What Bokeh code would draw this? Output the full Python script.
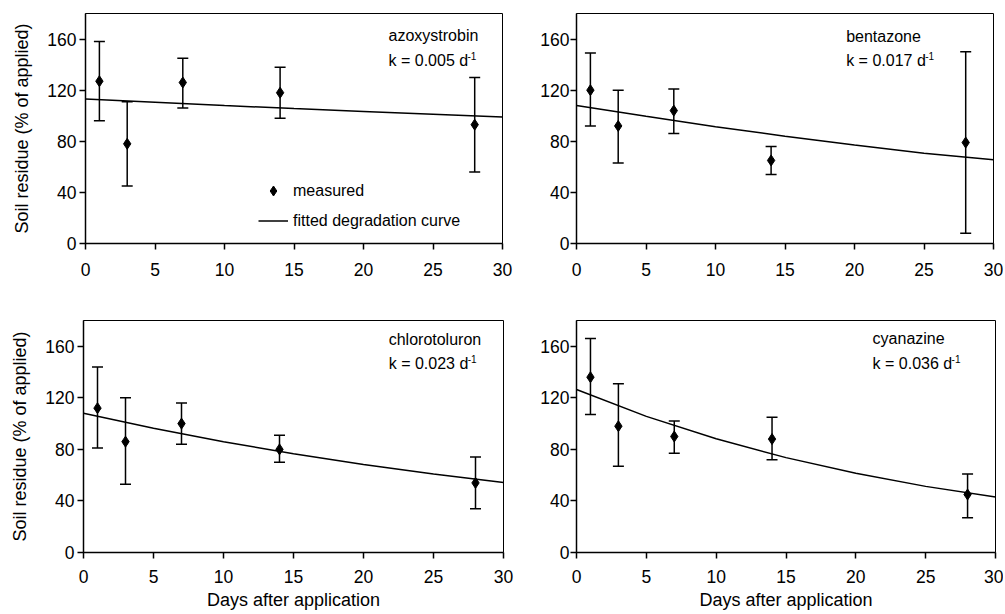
from bokeh.plotting import figure
from bokeh.models import (Range1d, FixedTicker, ColumnDataSource, Whisker, TeeHead,
                          Label, Legend, LegendItem)
from bokeh.layouts import column, row
from bokeh.embed import file_html
from bokeh.resources import INLINE

FONT = "Liberation Sans"

days = [1, 3, 7, 14, 28]
curve_days = [0, 5, 10, 15, 20, 25, 30]
x_ticks = [0, 5, 10, 15, 20, 25, 30]
y_ticks = [0, 40, 80, 120, 160]

names = ["azoxystrobin", "bentazone", "chlorotoluron", "cyanazine"]
k_values = ["0.005", "0.017", "0.023", "0.036"]

azo_mean = [127, 78, 126, 118, 93]
azo_low = [96, 45, 106, 98, 56]
azo_high = [158, 111, 145, 138, 130]
azo_curve = [113, 110.6, 108, 105.6, 103.4, 101.2, 99]

ben_mean = [120, 92, 104, 65, 79]
ben_low = [92, 63, 86, 54, 8]
ben_high = [149, 120, 121, 76, 150]
ben_curve = [108, 99.5, 91.4, 84, 77, 70.7, 65.5]

chl_mean = [112, 86, 100, 80, 54]
chl_low = [81, 53, 84, 70, 34]
chl_high = [144, 120, 116, 91, 74]
chl_curve = [108, 96.4, 86, 76.6, 68.3, 60.9, 54.4]

cya_mean = [136, 98, 90, 88, 45]
cya_low = [107, 67, 77, 72, 27]
cya_high = [166, 131, 102, 105, 61]
cya_curve = [126.5, 105.6, 88.2, 73.6, 61.5, 51.3, 43]

# annotation anchor (data coords) for name line and k line
label_x = [21.8, 19.4, 21.8, 21.2]
label_y1 = [163, 162, 165, 166]
label_y2 = [143, 143, 146.5, 146.5]

panels = [
    (azo_mean, azo_low, azo_high, azo_curve),
    (ben_mean, ben_low, ben_high, ben_curve),
    (chl_mean, chl_low, chl_high, chl_curve),
    (cya_mean, cya_low, cya_high, cya_curve),
]

# figure geometry: (width, height, left, right, top, bottom)
geom = [
    (537, 300, 85, 35, 12, 57),
    (466, 300, 36, 10, 13, 55),
    (537, 314, 83, 34, 20, 62),
    (466, 314, 38, 8, 20, 62),
]


def make_panel(i):
    mean, low, high, curve = panels[i]
    w, h, bl, br, bt, bb = geom[i]
    p = figure(width=w, height=h, output_backend="svg", toolbar_location=None,
               x_range=Range1d(0, 30), y_range=Range1d(0, 180),
               min_border_left=bl, min_border_right=br,
               min_border_top=bt, min_border_bottom=bb)
    p.grid.visible = False
    p.outline_line_color = "black"
    p.outline_line_width = 1
    p.background_fill_color = "white"
    p.border_fill_color = "white"

    p.xaxis.ticker = FixedTicker(ticks=x_ticks)
    p.yaxis.ticker = FixedTicker(ticks=y_ticks)
    for ax in (p.xaxis[0], p.yaxis[0]):
        ax.axis_line_width = 1.5
        ax.axis_line_color = "black"
        ax.major_tick_line_color = "black"
        ax.major_tick_line_width = 1.5
        ax.major_tick_in = 0
        ax.major_tick_out = 6
        ax.minor_tick_line_color = None
        ax.major_label_text_font = FONT
        ax.major_label_text_font_size = "17.5px"
        ax.major_label_text_color = "black"
        ax.axis_label_text_font = FONT
        ax.axis_label_text_font_size = "18px"
        ax.axis_label_text_font_style = "normal"
        ax.axis_label_text_color = "black"
    p.xaxis.major_label_standoff = 13 if i < 2 else 11
    p.yaxis.major_label_standoff = 3 if i in (0, 2) else 1
    if i in (0, 2):
        p.yaxis.axis_label = "Soil residue (% of applied)"
        p.yaxis.axis_label_standoff = 12
    if i in (2, 3):
        p.xaxis.axis_label = "Days after application"
        p.xaxis.axis_label_standoff = 4

    src = ColumnDataSource(dict(x=days, y=mean, lo=low, hi=high))
    cr = p.line(x=curve_days, y=curve, line_color="black", line_width=1.5)
    wk = Whisker(base="x", lower="lo", upper="hi", source=src,
                 line_color="black", line_width=1.5,
                 upper_head=TeeHead(size=11, line_color="black", line_width=1.5),
                 lower_head=TeeHead(size=11, line_color="black", line_width=1.5))
    p.add_layout(wk)
    sr = p.scatter(x="x", y="y", source=src, marker="diamond", size=11,
                   fill_color="black", line_color="black")

    p.add_layout(Label(x=label_x[i], y=label_y1[i], text=names[i],
                       text_font=FONT, text_font_size="16px",
                       text_baseline="middle", text_color="black"))
    p.add_layout(Label(x=label_x[i], y=label_y2[i], text="k = " + k_values[i] + " d",
                       text_font=FONT, text_font_size="16px",
                       text_baseline="middle", text_color="black"))
    p.add_layout(Label(x=label_x[i], y=label_y2[i], x_offset=79, y_offset=5,
                       text="-1", text_font=FONT, text_font_size="10px",
                       text_baseline="middle", text_color="black"))

    if i == 0:
        lg = Legend(items=[LegendItem(label="measured", renderers=[sr]),
                           LegendItem(label="fitted degradation curve", renderers=[cr])],
                    location=(173, 10), glyph_width=30, glyph_height=25,
                    label_height=20, spacing=5, label_standoff=5, padding=0,
                    margin=0, background_fill_alpha=0, border_line_alpha=0,
                    label_text_font=FONT, label_text_font_size="16px",
                    label_text_color="black")
        p.add_layout(lg)
    return p


figs = [make_panel(i) for i in range(4)]
layout = column(row(figs[0], figs[1]), row(figs[2], figs[3]))
open("out.html", "w").write(file_html(layout, INLINE))
